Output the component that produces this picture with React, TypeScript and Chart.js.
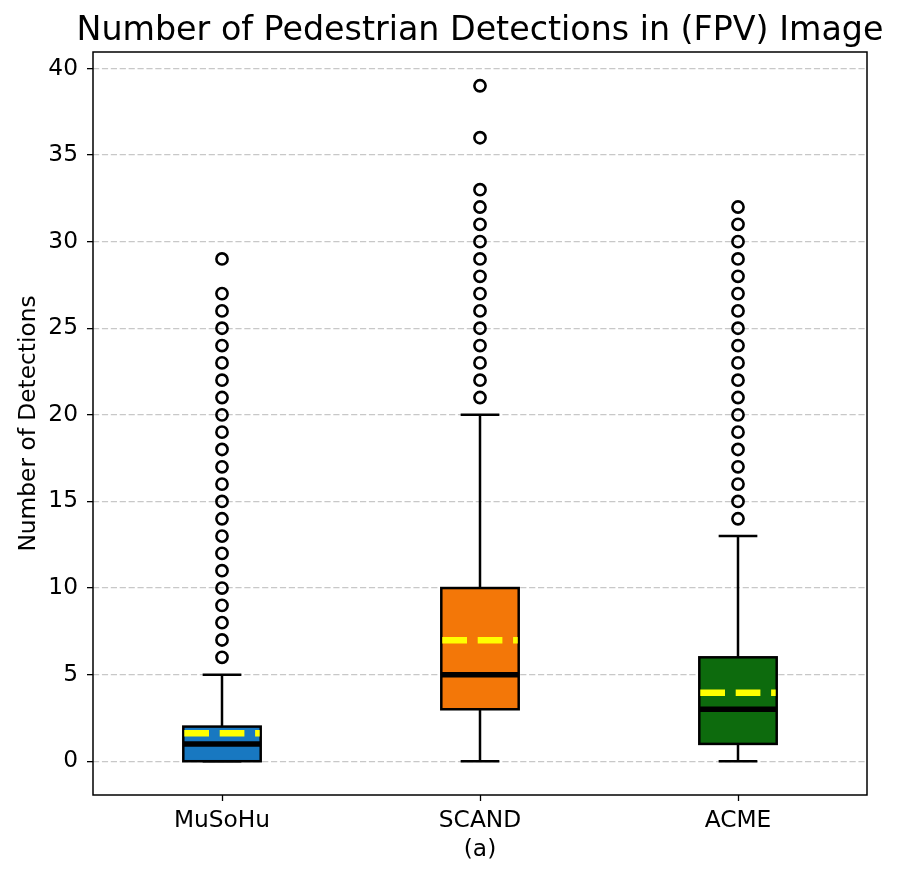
import { useEffect, useRef } from 'react';
import { Chart, registerables } from 'chart.js';

Chart.register(...registerables);

// Box-plot summary per dataset
const groups = ['MuSoHu', 'SCAND', 'ACME'];
const positions = [1, 2, 3];
const q1Values = [0, 3, 1];
const q3Values = [2, 10, 6];
const medianValues = [1, 5, 3];
const meanValues = [1.62, 6.99, 3.95];
const whiskerLow = [0, 0, 0];
const whiskerHigh = [5, 20, 13];

// Fliers beyond the whiskers
const musohuOutliers = [6, 7, 8, 9, 10, 11, 12, 13, 14, 15, 16, 17, 18, 19, 20, 21, 22, 23, 24, 25, 26, 27, 29];
const scandOutliers = [21, 22, 23, 24, 25, 26, 27, 28, 29, 30, 31, 32, 33, 36, 39];
const acmeOutliers = [14, 15, 16, 17, 18, 19, 20, 21, 22, 23, 24, 25, 26, 27, 28, 29, 30, 31, 32];

const yTicks = [0, 5, 10, 15, 20, 25, 30, 35, 40];

const boxColors = ['#1878c1', '#f37708', '#0d6b0d'];
const BOX_WIDTH = 0.3;
const FONT = '"DejaVu Sans", sans-serif';

const boxPlugin = {
  id: 'boxes',
  beforeDatasetsDraw(chart: any) {
    const { ctx, scales } = chart;
    const x = scales.x;
    const y = scales.y;
    const line = (x1: number, y1: number, x2: number, y2: number) => {
      ctx.beginPath();
      ctx.moveTo(x1, y1);
      ctx.lineTo(x2, y2);
      ctx.stroke();
    };
    positions.forEach((p, i) => {
      const cx = x.getPixelForValue(p);
      const left = x.getPixelForValue(p - BOX_WIDTH / 2);
      const right = x.getPixelForValue(p + BOX_WIDTH / 2);
      const capL = x.getPixelForValue(p - BOX_WIDTH / 4);
      const capR = x.getPixelForValue(p + BOX_WIDTH / 4);
      const yQ1 = y.getPixelForValue(q1Values[i]);
      const yQ3 = y.getPixelForValue(q3Values[i]);
      const yLo = y.getPixelForValue(whiskerLow[i]);
      const yHi = y.getPixelForValue(whiskerHigh[i]);
      const yMed = y.getPixelForValue(medianValues[i]);
      const yMean = y.getPixelForValue(meanValues[i]);

      ctx.save();
      ctx.lineCap = 'butt';
      ctx.strokeStyle = '#000';
      ctx.lineWidth = 2.5;
      // whiskers and caps
      line(cx, yQ1, cx, yLo);
      line(cx, yQ3, cx, yHi);
      line(capL, yLo, capR, yLo);
      line(capL, yHi, capR, yHi);
      // box
      ctx.fillStyle = boxColors[i];
      ctx.fillRect(left, yQ3, right - left, yQ1 - yQ3);
      ctx.strokeRect(left, yQ3, right - left, yQ1 - yQ3);
      // median
      ctx.lineWidth = 5.5;
      line(left, yMed, right, yMed);
      // mean
      ctx.strokeStyle = '#ffff00';
      ctx.lineWidth = 6.5;
      ctx.setLineDash([24.7, 10.7]);
      line(left + 1, yMean, right - 1, yMean);
      ctx.restore();
    });
  },
  afterDraw(chart: any) {
    const { ctx, chartArea } = chart;
    const { left, right, top, bottom } = chartArea;
    ctx.save();
    // axes frame
    ctx.strokeStyle = '#000';
    ctx.lineWidth = 1.5;
    ctx.strokeRect(left, top, right - left, bottom - top);

    ctx.fillStyle = '#000';
    // title
    ctx.font = `33.3px ${FONT}`;
    ctx.textAlign = 'center';
    ctx.textBaseline = 'alphabetic';
    ctx.fillText('Number of Pedestrian Detections in (FPV) Image', (left + right) / 2, 40);

    // x-axis label
    ctx.font = `23.3px ${FONT}`;
    ctx.fillText('(a)', (left + right) / 2, 856);

    // y-axis label
    ctx.translate(35, (top + bottom) / 2);
    ctx.rotate(-Math.PI / 2);
    ctx.font = `23.3px ${FONT}`;
    ctx.fillText('Number of Detections', 0, 0);
    ctx.restore();
  },
};

const outlierStyle = {
  pointStyle: 'circle',
  pointRadius: 5.6,
  pointHoverRadius: 5.6,
  pointBorderWidth: 2.6,
  pointBorderColor: '#000',
  pointBackgroundColor: 'rgba(0,0,0,0)',
  showLine: false,
};

export default function App() {
  const canvasRef = useRef<HTMLCanvasElement | null>(null);

  useEffect(() => {
    const canvas = canvasRef.current;
    if (!canvas) return;
    const outlierSets = [musohuOutliers, scandOutliers, acmeOutliers];
    const chart = new Chart(canvas, {
      type: 'scatter',
      data: {
        datasets: outlierSets.map((vals, i) => ({
          label: groups[i],
          data: vals.map((v) => ({ x: positions[i], y: v })),
          ...outlierStyle,
        })),
      },
      options: {
        animation: false,
        responsive: false,
        devicePixelRatio: 1,
        layout: { padding: { left: 0, right: 33, top: 52, bottom: 0 } },
        plugins: {
          legend: { display: false },
          tooltip: { enabled: false },
          title: { display: false },
        },
        scales: {
          x: {
            type: 'linear',
            min: 0.5,
            max: 3.5,
            afterBuildTicks: (scale: any) => {
              scale.ticks = positions.map((v) => ({ value: v }));
            },
            afterFit: (scale: any) => {
              scale.height = 86;
            },
            ticks: {
              callback: (v: any) => groups[positions.indexOf(Number(v))] ?? '',
              color: '#000',
              font: { family: FONT, size: 23.3 },
              padding: 6,
              maxRotation: 0,
              autoSkip: false,
            },
            grid: {
              display: true,
              drawOnChartArea: false,
              drawTicks: true,
              tickLength: 6,
              tickColor: '#000',
              tickWidth: 1.3,
            },
            border: { display: false },
          },
          y: {
            type: 'linear',
            min: -1.95,
            max: 40.95,
            afterBuildTicks: (scale: any) => {
              scale.ticks = yTicks.map((v) => ({ value: v }));
            },
            afterFit: (scale: any) => {
              scale.width = 93;
            },
            ticks: {
              color: '#000',
              font: { family: FONT, size: 23.3 },
              padding: 9,
            },
            grid: {
              display: true,
              color: '#c8c8c8',
              lineWidth: 1.3,
              drawTicks: true,
              tickLength: 6,
              tickColor: '#000',
              tickWidth: 1.3,
              tickBorderDash: [],
            },
            border: { display: false, dash: [6.2, 2.7] },
          },
        },
      } as any,
      plugins: [boxPlugin],
    });
    return () => chart.destroy();
  }, []);

  return (
    <div style={{ position: 'absolute', left: 0, top: 0, width: 900, height: 881, background: '#fff' }}>
      <canvas ref={canvasRef} width={900} height={881} style={{ display: 'block', width: 900, height: 881 }} />
    </div>
  );
}
